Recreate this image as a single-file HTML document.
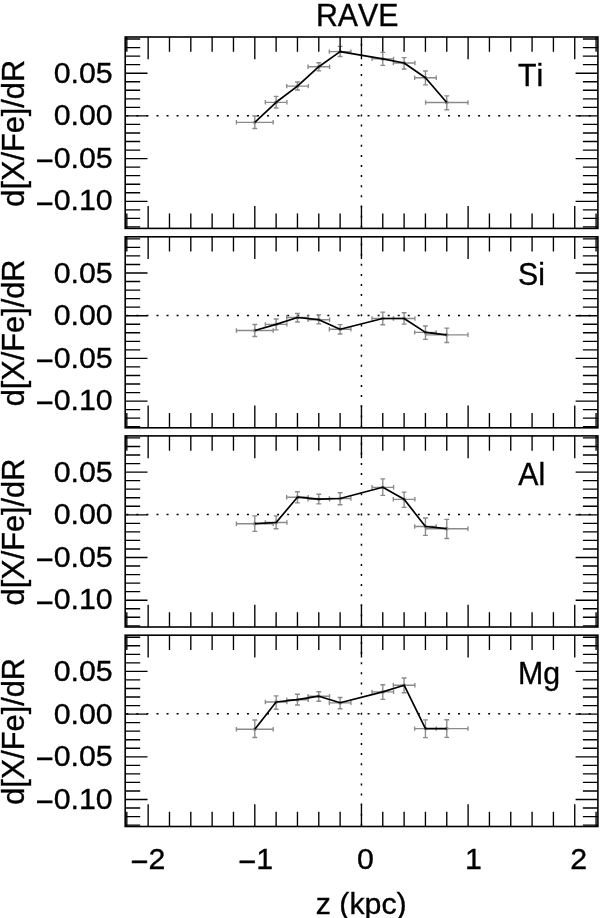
<!DOCTYPE html>
<html lang="en"><head><meta charset="utf-8"><title>RAVE abundance gradients</title>
<style>html,body{margin:0;padding:0;background:#fff}body{width:600px;height:918px;overflow:hidden}svg{display:block;position:absolute;left:0;top:0}text{font-kerning:none;stroke:#000;stroke-width:0.35px;font-family:"Liberation Sans",sans-serif;fill:#000}</style></head><body>
<svg width="600" height="918" viewBox="0 0 600 918">
<rect width="600" height="918" fill="#fff"/>
<path d="M126.35 115.65h2M136.40 115.65h2M146.45 115.65h2M156.50 115.65h2M166.55 115.65h2M176.60 115.65h2M186.65 115.65h2M196.70 115.65h2M206.75 115.65h2M216.80 115.65h2M226.85 115.65h2M236.90 115.65h2M246.95 115.65h2M257.00 115.65h2M267.05 115.65h2M277.10 115.65h2M287.15 115.65h2M297.20 115.65h2M307.25 115.65h2M317.30 115.65h2M327.35 115.65h2M337.40 115.65h2M347.45 115.65h2M357.50 115.65h2M367.55 115.65h2M377.60 115.65h2M387.65 115.65h2M397.70 115.65h2M407.75 115.65h2M417.80 115.65h2M427.85 115.65h2M437.90 115.65h2M447.95 115.65h2M458.00 115.65h2M468.05 115.65h2M478.10 115.65h2M488.15 115.65h2M498.20 115.65h2M508.25 115.65h2M518.30 115.65h2M528.35 115.65h2M538.40 115.65h2M548.45 115.65h2M558.50 115.65h2M568.55 115.65h2M578.60 115.65h2M588.65 115.65h2M361.45 43.80v2M361.45 53.90v2M361.45 64.00v2M361.45 74.10v2M361.45 84.20v2M361.45 94.30v2M361.45 104.40v2M361.45 114.50v2M361.45 124.60v2M361.45 134.70v2M361.45 144.80v2M361.45 154.90v2M361.45 165.00v2M361.45 175.10v2M361.45 185.20v2M361.45 195.30v2M361.45 205.40v2M361.45 215.50v2M361.45 225.60v2" stroke="#000" stroke-width="1.5" fill="none"/>
<path d="M236.40 122.30H273.20M236.40 120.10v4.4M273.20 120.10v4.4M254.80 116.00V128.50M252.40 116.00h4.8M252.40 128.50h4.8M265.33 102.30H286.93M265.33 100.10v4.4M286.93 100.10v4.4M276.13 96.30V108.00M273.73 96.30h4.8M273.73 108.00h4.8M286.66 86.10H308.26M286.66 83.90v4.4M308.26 83.90v4.4M297.46 82.00V90.00M295.06 82.00h4.8M295.06 90.00h4.8M307.99 66.70H329.59M307.99 64.50v4.4M329.59 64.50v4.4M318.79 62.70V70.80M316.39 62.70h4.8M316.39 70.80h4.8M329.32 51.60H350.92M329.32 49.40v4.4M350.92 49.40v4.4M340.12 46.30V56.50M337.72 46.30h4.8M337.72 56.50h4.8M371.98 58.90H393.58M371.98 56.70v4.4M393.58 56.70v4.4M382.78 52.40V65.30M380.38 52.40h4.8M380.38 65.30h4.8M393.31 63.00H414.91M393.31 60.80v4.4M414.91 60.80v4.4M404.11 57.60V69.00M401.71 57.60h4.8M401.71 69.00h4.8M414.64 77.70H436.24M414.64 75.50v4.4M436.24 75.50v4.4M425.44 71.00V84.90M423.04 71.00h4.8M423.04 84.90h4.8M425.57 102.50H467.97M425.57 100.30v4.4M467.97 100.30v4.4M446.77 95.80V109.70M444.37 95.80h4.8M444.37 109.70h4.8" stroke="#8a8a8a" stroke-width="1.35" fill="none"/>
<g fill="#8a8a8a"><circle cx="254.80" cy="122.30" r="1.9"/><circle cx="276.13" cy="102.30" r="1.9"/><circle cx="297.46" cy="86.10" r="1.9"/><circle cx="318.79" cy="66.70" r="1.9"/><circle cx="340.12" cy="51.60" r="1.9"/><circle cx="382.78" cy="58.90" r="1.9"/><circle cx="404.11" cy="63.00" r="1.9"/><circle cx="425.44" cy="77.70" r="1.9"/><circle cx="446.77" cy="102.50" r="1.9"/></g>
<polyline points="254.80,122.30 276.13,102.30 297.46,86.10 318.79,66.70 340.12,51.60 382.78,58.90 404.11,63.00 425.44,77.70 446.77,102.50" stroke="#000" stroke-width="1.7" fill="none" stroke-linejoin="round"/>
<path d="M126.82 37.00v14.8M126.82 228.40v-14.8M148.15 37.00v22.3M148.15 228.40v-22.3M169.48 37.00v14.8M169.48 228.40v-14.8M190.81 37.00v14.8M190.81 228.40v-14.8M212.14 37.00v14.8M212.14 228.40v-14.8M233.47 37.00v14.8M233.47 228.40v-14.8M254.80 37.00v22.3M254.80 228.40v-22.3M276.13 37.00v14.8M276.13 228.40v-14.8M297.46 37.00v14.8M297.46 228.40v-14.8M318.79 37.00v14.8M318.79 228.40v-14.8M340.12 37.00v14.8M340.12 228.40v-14.8M361.45 37.00v22.3M361.45 228.40v-22.3M382.78 37.00v14.8M382.78 228.40v-14.8M404.11 37.00v14.8M404.11 228.40v-14.8M425.44 37.00v14.8M425.44 228.40v-14.8M446.77 37.00v14.8M446.77 228.40v-14.8M468.10 37.00v22.3M468.10 228.40v-22.3M489.43 37.00v14.8M489.43 228.40v-14.8M510.76 37.00v14.8M510.76 228.40v-14.8M532.09 37.00v14.8M532.09 228.40v-14.8M553.42 37.00v14.8M553.42 228.40v-14.8M574.75 37.00v22.3M574.75 228.40v-22.3M596.08 37.00v14.8M596.08 228.40v-14.8M125.20 226.92h15.0M597.90 226.92h-15.0M125.20 218.38h15.0M597.90 218.38h-15.0M125.20 209.84h15.0M597.90 209.84h-15.0M125.20 201.30h22.3M597.90 201.30h-22.3M125.20 192.76h15.0M597.90 192.76h-15.0M125.20 184.22h15.0M597.90 184.22h-15.0M125.20 175.68h15.0M597.90 175.68h-15.0M125.20 167.14h15.0M597.90 167.14h-15.0M125.20 158.60h22.3M597.90 158.60h-22.3M125.20 150.06h15.0M597.90 150.06h-15.0M125.20 141.52h15.0M597.90 141.52h-15.0M125.20 132.98h15.0M597.90 132.98h-15.0M125.20 124.44h15.0M597.90 124.44h-15.0M125.20 115.90h22.3M597.90 115.90h-22.3M125.20 107.36h15.0M597.90 107.36h-15.0M125.20 98.82h15.0M597.90 98.82h-15.0M125.20 90.28h15.0M597.90 90.28h-15.0M125.20 81.74h15.0M597.90 81.74h-15.0M125.20 73.20h22.3M597.90 73.20h-22.3M125.20 64.66h15.0M597.90 64.66h-15.0M125.20 56.12h15.0M597.90 56.12h-15.0M125.20 47.58h15.0M597.90 47.58h-15.0M125.20 39.04h15.0M597.90 39.04h-15.0" stroke="#000" stroke-width="1.35" fill="none"/>
<rect x="125.2" y="37.0" width="472.70" height="191.40" fill="none" stroke="#000" stroke-width="1.6"/>
<text transform="translate(112.6,82.82) scale(1.01,1.01)" font-size="30" text-anchor="end">0.05</text>
<text transform="translate(112.6,125.35) scale(1.01,1.01)" font-size="30" text-anchor="end">0.00</text>
<text transform="translate(112.6,167.88) scale(1.01,1.01)" font-size="30" text-anchor="end"><tspan dy="3.2" stroke="#000" stroke-width="0.7">−</tspan><tspan dy="-3.2">0.05</tspan></text>
<text transform="translate(112.6,210.42) scale(1.01,1.01)" font-size="30" text-anchor="end"><tspan dy="3.2" stroke="#000" stroke-width="0.7">−</tspan><tspan dy="-3.2">0.10</tspan></text>
<text transform="translate(24.0,133.30) rotate(-90) scale(1.024,1.03)" font-size="30" text-anchor="middle">d[X/Fe]/dR</text>
<text transform="translate(518.0,86.0) scale(1.01,1.045)" font-size="30">Ti</text>
<path d="M126.35 315.45h2M136.40 315.45h2M146.45 315.45h2M156.50 315.45h2M166.55 315.45h2M176.60 315.45h2M186.65 315.45h2M196.70 315.45h2M206.75 315.45h2M216.80 315.45h2M226.85 315.45h2M236.90 315.45h2M246.95 315.45h2M257.00 315.45h2M267.05 315.45h2M277.10 315.45h2M287.15 315.45h2M297.20 315.45h2M307.25 315.45h2M317.30 315.45h2M327.35 315.45h2M337.40 315.45h2M347.45 315.45h2M357.50 315.45h2M367.55 315.45h2M377.60 315.45h2M387.65 315.45h2M397.70 315.45h2M407.75 315.45h2M417.80 315.45h2M427.85 315.45h2M437.90 315.45h2M447.95 315.45h2M458.00 315.45h2M468.05 315.45h2M478.10 315.45h2M488.15 315.45h2M498.20 315.45h2M508.25 315.45h2M518.30 315.45h2M528.35 315.45h2M538.40 315.45h2M548.45 315.45h2M558.50 315.45h2M568.55 315.45h2M578.60 315.45h2M588.65 315.45h2M361.45 243.60v2M361.45 253.70v2M361.45 263.80v2M361.45 273.90v2M361.45 284.00v2M361.45 294.10v2M361.45 304.20v2M361.45 314.30v2M361.45 324.40v2M361.45 334.50v2M361.45 344.60v2M361.45 354.70v2M361.45 364.80v2M361.45 374.90v2M361.45 385.00v2M361.45 395.10v2M361.45 405.20v2M361.45 415.30v2M361.45 425.40v2" stroke="#000" stroke-width="1.5" fill="none"/>
<path d="M236.40 330.50H273.20M236.40 328.30v4.4M273.20 328.30v4.4M254.80 324.50V336.50M252.40 324.50h4.8M252.40 336.50h4.8M265.33 324.40H286.93M265.33 322.20v4.4M286.93 322.20v4.4M276.13 319.00V329.90M273.73 319.00h4.8M273.73 329.90h4.8M286.66 317.50H308.26M286.66 315.30v4.4M308.26 315.30v4.4M297.46 313.50V322.00M295.06 313.50h4.8M295.06 322.00h4.8M307.99 319.70H329.59M307.99 317.50v4.4M329.59 317.50v4.4M318.79 314.80V323.80M316.39 314.80h4.8M316.39 323.80h4.8M329.32 329.20H350.92M329.32 327.00v4.4M350.92 327.00v4.4M340.12 324.60V334.00M337.72 324.60h4.8M337.72 334.00h4.8M371.98 318.50H393.58M371.98 316.30v4.4M393.58 316.30v4.4M382.78 312.10V324.70M380.38 312.10h4.8M380.38 324.70h4.8M393.31 318.50H414.91M393.31 316.30v4.4M414.91 316.30v4.4M404.11 312.70V324.10M401.71 312.70h4.8M401.71 324.10h4.8M414.64 332.40H436.24M414.64 330.20v4.4M436.24 330.20v4.4M425.44 326.00V339.30M423.04 326.00h4.8M423.04 339.30h4.8M425.57 334.80H467.97M425.57 332.60v4.4M467.97 332.60v4.4M446.77 328.10V342.50M444.37 328.10h4.8M444.37 342.50h4.8" stroke="#8a8a8a" stroke-width="1.35" fill="none"/>
<g fill="#8a8a8a"><circle cx="254.80" cy="330.50" r="1.9"/><circle cx="276.13" cy="324.40" r="1.9"/><circle cx="297.46" cy="317.50" r="1.9"/><circle cx="318.79" cy="319.70" r="1.9"/><circle cx="340.12" cy="329.20" r="1.9"/><circle cx="382.78" cy="318.50" r="1.9"/><circle cx="404.11" cy="318.50" r="1.9"/><circle cx="425.44" cy="332.40" r="1.9"/><circle cx="446.77" cy="334.80" r="1.9"/></g>
<polyline points="254.80,330.50 276.13,324.40 297.46,317.50 318.79,319.70 340.12,329.20 382.78,318.50 404.11,318.50 425.44,332.40 446.77,334.80" stroke="#000" stroke-width="1.7" fill="none" stroke-linejoin="round"/>
<path d="M126.82 236.80v14.8M126.82 427.80v-14.8M148.15 236.80v22.3M148.15 427.80v-22.3M169.48 236.80v14.8M169.48 427.80v-14.8M190.81 236.80v14.8M190.81 427.80v-14.8M212.14 236.80v14.8M212.14 427.80v-14.8M233.47 236.80v14.8M233.47 427.80v-14.8M254.80 236.80v22.3M254.80 427.80v-22.3M276.13 236.80v14.8M276.13 427.80v-14.8M297.46 236.80v14.8M297.46 427.80v-14.8M318.79 236.80v14.8M318.79 427.80v-14.8M340.12 236.80v14.8M340.12 427.80v-14.8M361.45 236.80v22.3M361.45 427.80v-22.3M382.78 236.80v14.8M382.78 427.80v-14.8M404.11 236.80v14.8M404.11 427.80v-14.8M425.44 236.80v14.8M425.44 427.80v-14.8M446.77 236.80v14.8M446.77 427.80v-14.8M468.10 236.80v22.3M468.10 427.80v-22.3M489.43 236.80v14.8M489.43 427.80v-14.8M510.76 236.80v14.8M510.76 427.80v-14.8M532.09 236.80v14.8M532.09 427.80v-14.8M553.42 236.80v14.8M553.42 427.80v-14.8M574.75 236.80v22.3M574.75 427.80v-22.3M596.08 236.80v14.8M596.08 427.80v-14.8M125.20 426.72h15.0M597.90 426.72h-15.0M125.20 418.18h15.0M597.90 418.18h-15.0M125.20 409.64h15.0M597.90 409.64h-15.0M125.20 401.10h22.3M597.90 401.10h-22.3M125.20 392.56h15.0M597.90 392.56h-15.0M125.20 384.02h15.0M597.90 384.02h-15.0M125.20 375.48h15.0M597.90 375.48h-15.0M125.20 366.94h15.0M597.90 366.94h-15.0M125.20 358.40h22.3M597.90 358.40h-22.3M125.20 349.86h15.0M597.90 349.86h-15.0M125.20 341.32h15.0M597.90 341.32h-15.0M125.20 332.78h15.0M597.90 332.78h-15.0M125.20 324.24h15.0M597.90 324.24h-15.0M125.20 315.70h22.3M597.90 315.70h-22.3M125.20 307.16h15.0M597.90 307.16h-15.0M125.20 298.62h15.0M597.90 298.62h-15.0M125.20 290.08h15.0M597.90 290.08h-15.0M125.20 281.54h15.0M597.90 281.54h-15.0M125.20 273.00h22.3M597.90 273.00h-22.3M125.20 264.46h15.0M597.90 264.46h-15.0M125.20 255.92h15.0M597.90 255.92h-15.0M125.20 247.38h15.0M597.90 247.38h-15.0M125.20 238.84h15.0M597.90 238.84h-15.0" stroke="#000" stroke-width="1.35" fill="none"/>
<rect x="125.2" y="236.8" width="472.70" height="191.00" fill="none" stroke="#000" stroke-width="1.6"/>
<text transform="translate(112.6,282.62) scale(1.01,1.01)" font-size="30" text-anchor="end">0.05</text>
<text transform="translate(112.6,325.15) scale(1.01,1.01)" font-size="30" text-anchor="end">0.00</text>
<text transform="translate(112.6,367.69) scale(1.01,1.01)" font-size="30" text-anchor="end"><tspan dy="3.2" stroke="#000" stroke-width="0.7">−</tspan><tspan dy="-3.2">0.05</tspan></text>
<text transform="translate(112.6,410.22) scale(1.01,1.01)" font-size="30" text-anchor="end"><tspan dy="3.2" stroke="#000" stroke-width="0.7">−</tspan><tspan dy="-3.2">0.10</tspan></text>
<text transform="translate(24.0,332.90) rotate(-90) scale(1.024,1.03)" font-size="30" text-anchor="middle">d[X/Fe]/dR</text>
<text transform="translate(518.0,284.8) scale(1.01,1.045)" font-size="30">Si</text>
<path d="M126.35 514.55h2M136.40 514.55h2M146.45 514.55h2M156.50 514.55h2M166.55 514.55h2M176.60 514.55h2M186.65 514.55h2M196.70 514.55h2M206.75 514.55h2M216.80 514.55h2M226.85 514.55h2M236.90 514.55h2M246.95 514.55h2M257.00 514.55h2M267.05 514.55h2M277.10 514.55h2M287.15 514.55h2M297.20 514.55h2M307.25 514.55h2M317.30 514.55h2M327.35 514.55h2M337.40 514.55h2M347.45 514.55h2M357.50 514.55h2M367.55 514.55h2M377.60 514.55h2M387.65 514.55h2M397.70 514.55h2M407.75 514.55h2M417.80 514.55h2M427.85 514.55h2M437.90 514.55h2M447.95 514.55h2M458.00 514.55h2M468.05 514.55h2M478.10 514.55h2M488.15 514.55h2M498.20 514.55h2M508.25 514.55h2M518.30 514.55h2M528.35 514.55h2M538.40 514.55h2M548.45 514.55h2M558.50 514.55h2M568.55 514.55h2M578.60 514.55h2M588.65 514.55h2M361.45 442.70v2M361.45 452.80v2M361.45 462.90v2M361.45 473.00v2M361.45 483.10v2M361.45 493.20v2M361.45 503.30v2M361.45 513.40v2M361.45 523.50v2M361.45 533.60v2M361.45 543.70v2M361.45 553.80v2M361.45 563.90v2M361.45 574.00v2M361.45 584.10v2M361.45 594.20v2M361.45 604.30v2M361.45 614.40v2M361.45 624.50v2" stroke="#000" stroke-width="1.5" fill="none"/>
<path d="M236.40 523.70H273.20M236.40 521.50v4.4M273.20 521.50v4.4M254.80 515.80V531.30M252.40 515.80h4.8M252.40 531.30h4.8M265.33 522.50H286.93M265.33 520.30v4.4M286.93 520.30v4.4M276.13 515.80V528.70M273.73 515.80h4.8M273.73 528.70h4.8M286.66 497.20H308.26M286.66 495.00v4.4M308.26 495.00v4.4M297.46 491.70V502.80M295.06 491.70h4.8M295.06 502.80h4.8M307.99 499.20H329.59M307.99 497.00v4.4M329.59 497.00v4.4M318.79 494.20V503.80M316.39 494.20h4.8M316.39 503.80h4.8M329.32 498.50H350.92M329.32 496.30v4.4M350.92 496.30v4.4M340.12 492.70V504.70M337.72 492.70h4.8M337.72 504.70h4.8M371.98 487.30H393.58M371.98 485.10v4.4M393.58 485.10v4.4M382.78 478.80V495.30M380.38 478.80h4.8M380.38 495.30h4.8M393.31 499.30H414.91M393.31 497.10v4.4M414.91 497.10v4.4M404.11 492.10V507.30M401.71 492.10h4.8M401.71 507.30h4.8M414.64 526.50H436.24M414.64 524.30v4.4M436.24 524.30v4.4M425.44 518.00V535.30M423.04 518.00h4.8M423.04 535.30h4.8M425.57 528.70H467.97M425.57 526.50v4.4M467.97 526.50v4.4M446.77 519.30V538.50M444.37 519.30h4.8M444.37 538.50h4.8" stroke="#8a8a8a" stroke-width="1.35" fill="none"/>
<g fill="#8a8a8a"><circle cx="254.80" cy="523.70" r="1.9"/><circle cx="276.13" cy="522.50" r="1.9"/><circle cx="297.46" cy="497.20" r="1.9"/><circle cx="318.79" cy="499.20" r="1.9"/><circle cx="340.12" cy="498.50" r="1.9"/><circle cx="382.78" cy="487.30" r="1.9"/><circle cx="404.11" cy="499.30" r="1.9"/><circle cx="425.44" cy="526.50" r="1.9"/><circle cx="446.77" cy="528.70" r="1.9"/></g>
<polyline points="254.80,523.70 276.13,522.50 297.46,497.20 318.79,499.20 340.12,498.50 382.78,487.30 404.11,499.30 425.44,526.50 446.77,528.70" stroke="#000" stroke-width="1.7" fill="none" stroke-linejoin="round"/>
<path d="M126.82 435.90v14.8M126.82 627.00v-14.8M148.15 435.90v22.3M148.15 627.00v-22.3M169.48 435.90v14.8M169.48 627.00v-14.8M190.81 435.90v14.8M190.81 627.00v-14.8M212.14 435.90v14.8M212.14 627.00v-14.8M233.47 435.90v14.8M233.47 627.00v-14.8M254.80 435.90v22.3M254.80 627.00v-22.3M276.13 435.90v14.8M276.13 627.00v-14.8M297.46 435.90v14.8M297.46 627.00v-14.8M318.79 435.90v14.8M318.79 627.00v-14.8M340.12 435.90v14.8M340.12 627.00v-14.8M361.45 435.90v22.3M361.45 627.00v-22.3M382.78 435.90v14.8M382.78 627.00v-14.8M404.11 435.90v14.8M404.11 627.00v-14.8M425.44 435.90v14.8M425.44 627.00v-14.8M446.77 435.90v14.8M446.77 627.00v-14.8M468.10 435.90v22.3M468.10 627.00v-22.3M489.43 435.90v14.8M489.43 627.00v-14.8M510.76 435.90v14.8M510.76 627.00v-14.8M532.09 435.90v14.8M532.09 627.00v-14.8M553.42 435.90v14.8M553.42 627.00v-14.8M574.75 435.90v22.3M574.75 627.00v-22.3M596.08 435.90v14.8M596.08 627.00v-14.8M125.20 625.82h15.0M597.90 625.82h-15.0M125.20 617.28h15.0M597.90 617.28h-15.0M125.20 608.74h15.0M597.90 608.74h-15.0M125.20 600.20h22.3M597.90 600.20h-22.3M125.20 591.66h15.0M597.90 591.66h-15.0M125.20 583.12h15.0M597.90 583.12h-15.0M125.20 574.58h15.0M597.90 574.58h-15.0M125.20 566.04h15.0M597.90 566.04h-15.0M125.20 557.50h22.3M597.90 557.50h-22.3M125.20 548.96h15.0M597.90 548.96h-15.0M125.20 540.42h15.0M597.90 540.42h-15.0M125.20 531.88h15.0M597.90 531.88h-15.0M125.20 523.34h15.0M597.90 523.34h-15.0M125.20 514.80h22.3M597.90 514.80h-22.3M125.20 506.26h15.0M597.90 506.26h-15.0M125.20 497.72h15.0M597.90 497.72h-15.0M125.20 489.18h15.0M597.90 489.18h-15.0M125.20 480.64h15.0M597.90 480.64h-15.0M125.20 472.10h22.3M597.90 472.10h-22.3M125.20 463.56h15.0M597.90 463.56h-15.0M125.20 455.02h15.0M597.90 455.02h-15.0M125.20 446.48h15.0M597.90 446.48h-15.0M125.20 437.94h15.0M597.90 437.94h-15.0" stroke="#000" stroke-width="1.35" fill="none"/>
<rect x="125.2" y="435.9" width="472.70" height="191.10" fill="none" stroke="#000" stroke-width="1.6"/>
<text transform="translate(112.6,481.71) scale(1.01,1.01)" font-size="30" text-anchor="end">0.05</text>
<text transform="translate(112.6,524.25) scale(1.01,1.01)" font-size="30" text-anchor="end">0.00</text>
<text transform="translate(112.6,566.78) scale(1.01,1.01)" font-size="30" text-anchor="end"><tspan dy="3.2" stroke="#000" stroke-width="0.7">−</tspan><tspan dy="-3.2">0.05</tspan></text>
<text transform="translate(112.6,609.32) scale(1.01,1.01)" font-size="30" text-anchor="end"><tspan dy="3.2" stroke="#000" stroke-width="0.7">−</tspan><tspan dy="-3.2">0.10</tspan></text>
<text transform="translate(24.0,532.05) rotate(-90) scale(1.024,1.03)" font-size="30" text-anchor="middle">d[X/Fe]/dR</text>
<text transform="translate(518.2,484.7) scale(1.01,1.045)" font-size="30">Al</text>
<path d="M126.35 713.85h2M136.40 713.85h2M146.45 713.85h2M156.50 713.85h2M166.55 713.85h2M176.60 713.85h2M186.65 713.85h2M196.70 713.85h2M206.75 713.85h2M216.80 713.85h2M226.85 713.85h2M236.90 713.85h2M246.95 713.85h2M257.00 713.85h2M267.05 713.85h2M277.10 713.85h2M287.15 713.85h2M297.20 713.85h2M307.25 713.85h2M317.30 713.85h2M327.35 713.85h2M337.40 713.85h2M347.45 713.85h2M357.50 713.85h2M367.55 713.85h2M377.60 713.85h2M387.65 713.85h2M397.70 713.85h2M407.75 713.85h2M417.80 713.85h2M427.85 713.85h2M437.90 713.85h2M447.95 713.85h2M458.00 713.85h2M468.05 713.85h2M478.10 713.85h2M488.15 713.85h2M498.20 713.85h2M508.25 713.85h2M518.30 713.85h2M528.35 713.85h2M538.40 713.85h2M548.45 713.85h2M558.50 713.85h2M568.55 713.85h2M578.60 713.85h2M588.65 713.85h2M361.45 642.00v2M361.45 652.10v2M361.45 662.20v2M361.45 672.30v2M361.45 682.40v2M361.45 692.50v2M361.45 702.60v2M361.45 712.70v2M361.45 722.80v2M361.45 732.90v2M361.45 743.00v2M361.45 753.10v2M361.45 763.20v2M361.45 773.30v2M361.45 783.40v2M361.45 793.50v2M361.45 803.60v2M361.45 813.70v2M361.45 823.80v2" stroke="#000" stroke-width="1.5" fill="none"/>
<path d="M236.40 729.20H273.20M236.40 727.00v4.4M273.20 727.00v4.4M254.80 720.00V737.50M252.40 720.00h4.8M252.40 737.50h4.8M265.33 702.00H286.93M265.33 699.80v4.4M286.93 699.80v4.4M276.13 695.80V709.20M273.73 695.80h4.8M273.73 709.20h4.8M286.66 699.70H308.26M286.66 697.50v4.4M308.26 697.50v4.4M297.46 694.20V705.00M295.06 694.20h4.8M295.06 705.00h4.8M307.99 696.20H329.59M307.99 694.00v4.4M329.59 694.00v4.4M318.79 691.70V701.20M316.39 691.70h4.8M316.39 701.20h4.8M329.32 702.80H350.92M329.32 700.60v4.4M350.92 700.60v4.4M340.12 697.50V708.70M337.72 697.50h4.8M337.72 708.70h4.8M371.98 691.90H393.58M371.98 689.70v4.4M393.58 689.70v4.4M382.78 684.70V699.30M380.38 684.70h4.8M380.38 699.30h4.8M393.31 685.20H414.91M393.31 683.00v4.4M414.91 683.00v4.4M404.11 678.00V692.70M401.71 678.00h4.8M401.71 692.70h4.8M414.64 728.60H436.24M414.64 726.40v4.4M436.24 726.40v4.4M425.44 719.80V737.60M423.04 719.80h4.8M423.04 737.60h4.8M425.57 728.60H467.97M425.57 726.40v4.4M467.97 726.40v4.4M446.77 719.70V737.30M444.37 719.70h4.8M444.37 737.30h4.8" stroke="#8a8a8a" stroke-width="1.35" fill="none"/>
<g fill="#8a8a8a"><circle cx="254.80" cy="729.20" r="1.9"/><circle cx="276.13" cy="702.00" r="1.9"/><circle cx="297.46" cy="699.70" r="1.9"/><circle cx="318.79" cy="696.20" r="1.9"/><circle cx="340.12" cy="702.80" r="1.9"/><circle cx="382.78" cy="691.90" r="1.9"/><circle cx="404.11" cy="685.20" r="1.9"/><circle cx="425.44" cy="728.60" r="1.9"/><circle cx="446.77" cy="728.60" r="1.9"/></g>
<polyline points="254.80,729.20 276.13,702.00 297.46,699.70 318.79,696.20 340.12,702.80 382.78,691.90 404.11,685.20 425.44,728.60 446.77,728.60" stroke="#000" stroke-width="1.7" fill="none" stroke-linejoin="round"/>
<path d="M126.82 635.20v14.8M126.82 826.50v-14.8M148.15 635.20v22.3M148.15 826.50v-22.3M169.48 635.20v14.8M169.48 826.50v-14.8M190.81 635.20v14.8M190.81 826.50v-14.8M212.14 635.20v14.8M212.14 826.50v-14.8M233.47 635.20v14.8M233.47 826.50v-14.8M254.80 635.20v22.3M254.80 826.50v-22.3M276.13 635.20v14.8M276.13 826.50v-14.8M297.46 635.20v14.8M297.46 826.50v-14.8M318.79 635.20v14.8M318.79 826.50v-14.8M340.12 635.20v14.8M340.12 826.50v-14.8M361.45 635.20v22.3M361.45 826.50v-22.3M382.78 635.20v14.8M382.78 826.50v-14.8M404.11 635.20v14.8M404.11 826.50v-14.8M425.44 635.20v14.8M425.44 826.50v-14.8M446.77 635.20v14.8M446.77 826.50v-14.8M468.10 635.20v22.3M468.10 826.50v-22.3M489.43 635.20v14.8M489.43 826.50v-14.8M510.76 635.20v14.8M510.76 826.50v-14.8M532.09 635.20v14.8M532.09 826.50v-14.8M553.42 635.20v14.8M553.42 826.50v-14.8M574.75 635.20v22.3M574.75 826.50v-22.3M596.08 635.20v14.8M596.08 826.50v-14.8M125.20 825.12h15.0M597.90 825.12h-15.0M125.20 816.58h15.0M597.90 816.58h-15.0M125.20 808.04h15.0M597.90 808.04h-15.0M125.20 799.50h22.3M597.90 799.50h-22.3M125.20 790.96h15.0M597.90 790.96h-15.0M125.20 782.42h15.0M597.90 782.42h-15.0M125.20 773.88h15.0M597.90 773.88h-15.0M125.20 765.34h15.0M597.90 765.34h-15.0M125.20 756.80h22.3M597.90 756.80h-22.3M125.20 748.26h15.0M597.90 748.26h-15.0M125.20 739.72h15.0M597.90 739.72h-15.0M125.20 731.18h15.0M597.90 731.18h-15.0M125.20 722.64h15.0M597.90 722.64h-15.0M125.20 714.10h22.3M597.90 714.10h-22.3M125.20 705.56h15.0M597.90 705.56h-15.0M125.20 697.02h15.0M597.90 697.02h-15.0M125.20 688.48h15.0M597.90 688.48h-15.0M125.20 679.94h15.0M597.90 679.94h-15.0M125.20 671.40h22.3M597.90 671.40h-22.3M125.20 662.86h15.0M597.90 662.86h-15.0M125.20 654.32h15.0M597.90 654.32h-15.0M125.20 645.78h15.0M597.90 645.78h-15.0M125.20 637.24h15.0M597.90 637.24h-15.0" stroke="#000" stroke-width="1.35" fill="none"/>
<rect x="125.2" y="635.2" width="472.70" height="191.30" fill="none" stroke="#000" stroke-width="1.6"/>
<text transform="translate(112.6,681.02) scale(1.01,1.01)" font-size="30" text-anchor="end">0.05</text>
<text transform="translate(112.6,723.55) scale(1.01,1.01)" font-size="30" text-anchor="end">0.00</text>
<text transform="translate(112.6,766.09) scale(1.01,1.01)" font-size="30" text-anchor="end"><tspan dy="3.2" stroke="#000" stroke-width="0.7">−</tspan><tspan dy="-3.2">0.05</tspan></text>
<text transform="translate(112.6,808.62) scale(1.01,1.01)" font-size="30" text-anchor="end"><tspan dy="3.2" stroke="#000" stroke-width="0.7">−</tspan><tspan dy="-3.2">0.10</tspan></text>
<text transform="translate(24.0,731.45) rotate(-90) scale(1.024,1.03)" font-size="30" text-anchor="middle">d[X/Fe]/dR</text>
<text transform="translate(518.0,683.7) scale(1.01,1.045)" font-size="30">Mg</text>
<text transform="translate(148.15,868.5) scale(1.01,1.01)" font-size="30" text-anchor="middle"><tspan dy="3.2" stroke="#000" stroke-width="0.7">−</tspan><tspan dy="-3.2">2</tspan></text>
<text transform="translate(255.80,868.5) scale(1.01,1.01)" font-size="30" text-anchor="middle"><tspan dy="3.2" stroke="#000" stroke-width="0.7">−</tspan><tspan dy="-3.2">1</tspan></text>
<text transform="translate(365.45,868.5) scale(1.01,1.01)" font-size="30" text-anchor="middle">0</text>
<text transform="translate(473.40,868.5) scale(1.01,1.01)" font-size="30" text-anchor="middle">1</text>
<text transform="translate(578.75,868.5) scale(1.01,1.01)" font-size="30" text-anchor="middle">2</text>
<text transform="translate(357.2,26.4) scale(1.01,1.045)" font-size="30" text-anchor="middle">RAVE</text>
<text transform="translate(361.2,914.4) scale(1.01,1.01)" font-size="30" text-anchor="middle">z (kpc)</text>
</svg></body></html>
